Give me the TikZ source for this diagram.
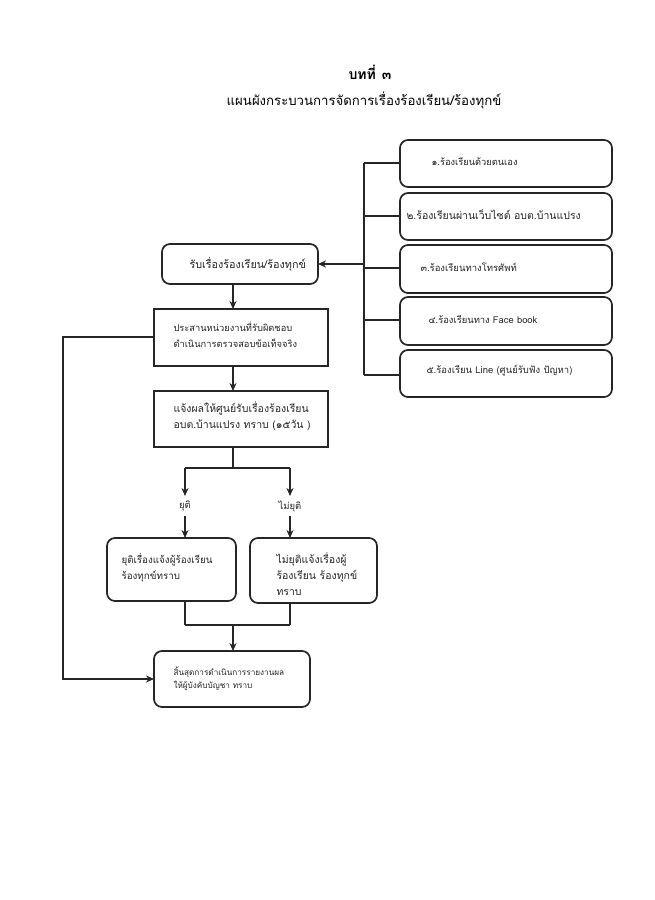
\documentclass[tikz,border=0pt]{standalone}
\usepackage{fontspec}
\newfontfamily\thaifont[Script=Thai]{Loma}
\usetikzlibrary{arrows.meta}
\tikzset{
  rbox/.style={draw=black!85, line width=1.7pt, rounded corners=8pt, inner sep=0pt},
  sbox/.style={draw=black!85, line width=1.7pt, inner sep=0pt},
  conn/.style={draw=black!85, line width=1.5pt},
  arr/.style={conn, -{Stealth[length=8pt,width=7pt]}},
  txt/.style={font=\thaifont\fontsize{#1}{16}\selectfont, align=left, anchor=west, text=black!85},
  txt/.default=10,
  lbl/.style={font=\thaifont\fontsize{9.5}{11}\selectfont, text=black!85}
}
\begin{document}
\begin{tikzpicture}[x=1pt,y=-1pt]
\useasboundingbox[fill=white] (0,0) rectangle (654,900);
% title
\node[font=\thaifont\bfseries\fontsize{14}{16}\selectfont] (t1) at (370,72) {บทที่\hspace{6pt}๓};
\node[font=\thaifont\fontsize{13.2}{16}\selectfont] (t2) at (364,100) {แผนผังกระบวนการจัดการเรื่องร้องเรียน/ร้องทุกข์};
% right channel boxes
\draw[rbox] (400,140) rectangle (612,187);
\draw[rbox] (400,193) rectangle (612,240);
\draw[rbox] (400,245) rectangle (612,293);
\draw[rbox] (400,297) rectangle (612,345);
\draw[rbox] (400,350) rectangle (612,397);
\coordinate (r1) at (400,163);
\coordinate (r2) at (400,216);
\coordinate (r3) at (400,268);
\coordinate (r4) at (400,320);
\coordinate (r5) at (400,375);
\node[txt=9.3] (c1) at (428,162) {๑.ร้องเรียนด้วยตนเอง};
\node[txt=10.5] (c2) at (403,215) {๒.ร้องเรียนผ่านเว็บไซต์ อบต.บ้านแปรง};
\node[txt=9.5] (c3) at (417,267) {๓.ร้องเรียนทางโทรศัพท์};
\node[txt=9.4] (c4) at (425,320) {๔.ร้องเรียนทาง Face book};
\node[txt=9.5] (c5) at (423,371) {๕.ร้องเรียน Line (ศูนย์รับฟัง ปัญหา)};
% bus
\coordinate (bt) at (364,163);
\coordinate (bb) at (364,375);
\coordinate (bm) at (364,264);
\draw[conn] (bt) -- (bb);
\draw[conn] (bt) -- (r1);
\draw[conn] (364,216) -- (r2);
\draw[conn] (364,268) -- (r3);
\draw[conn] (364,320) -- (r4);
\draw[conn] (bb) -- (r5);
% left flow
\draw[rbox] (162,244) rectangle (318,284);
\node[txt=10.8] (b1) at (186,264) {รับเรื่องร้องเรียน/ร้องทุกข์};
\coordinate (b1r) at (318,264);
\draw[arr] (bm) -- (b1r);
\draw[sbox] (154,309) rectangle (328,366);
\node[txt=9.3] (b2) at (170,335) {ประสานหน่วยงานที่รับผิดชอบ\\ดำเนินการตรวจสอบข้อเท็จจริง};
\draw[arr] (233,284) -- (233,309);
\draw[sbox] (154,391) rectangle (328,447);
\node[txt=10.5] (b3) at (170,416) {แจ้งผลให้ศูนย์รับเรื่องร้องเรียน\\อบต.บ้านแปรง ทราบ (๑๕วัน )};
\draw[arr] (233,366) -- (233,391);
% split
\coordinate (s0) at (233,447);
\coordinate (s1) at (233,468);
\coordinate (sl) at (185,468);
\coordinate (sr) at (290,468);
\draw[conn] (s0) -- (s1);
\draw[conn] (sl) -- (sr);
\node[lbl] (y1) at (185,506) {ยุติ};
\node[lbl] (y2) at (290,506) {ไม่ยุติ};
\draw[arr] (sl) -- (185,496);
\draw[arr] (sr) -- (290,496);
\draw[arr] (185,516) -- (185,538);
\draw[arr] (290,516) -- (290,538);
\draw[rbox] (107,538) rectangle (236,601);
\node[txt=9.8] (b4) at (118,568) {ยุติเรื่องแจ้งผู้ร้องเรียน\\ร้องทุกข์ทราบ};
\draw[rbox] (250,538) rectangle (377,603);
\node[txt=10.5] (b5) at (273,574) {ไม่ยุติแจ้งเรื่องผู้\\ร้องเรียน ร้องทุกข์\\ทราบ};
% merge
\draw[conn] (185,601) -- (185,625);
\draw[conn] (290,603) -- (290,625);
\draw[conn] (185,625) -- (290,625);
\draw[arr] (233,625) -- (233,651);
\draw[rbox] (154,651) rectangle (310,707);
\node[font=\thaifont\fontsize{8.2}{13}\selectfont, align=left, anchor=west, text=black!85] (b6) at (170,679) {สิ้นสุดการดำเนินการรายงานผล\\ให้ผู้บังคับบัญชา ทราบ};
% loop
\draw[arr] (154,337) -- (63,337) -- (63,679) -- (154,679);
\end{tikzpicture}
\end{document}
